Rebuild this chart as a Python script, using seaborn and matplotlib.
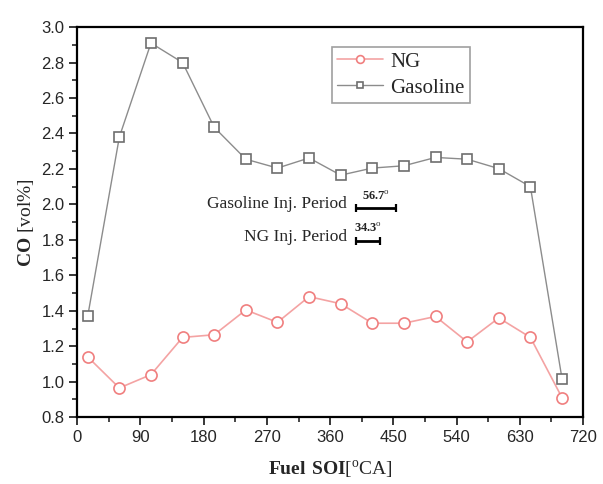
import numpy as np
import pandas as pd
import matplotlib
matplotlib.use("Agg")
import matplotlib.pyplot as plt
import seaborn as sns

# Fuel start of injection (deg CA)
soi = [15, 60, 105, 150, 195, 240, 285, 330, 375, 420, 465, 510, 555, 600, 645, 690]
co_ng = [1.14, 0.965, 1.04, 1.25, 1.265, 1.405, 1.335, 1.48, 1.44, 1.33, 1.33, 1.368, 1.225, 1.36, 1.25, 0.91]
co_gasoline = [1.37, 2.38, 2.91, 2.80, 2.435, 2.255, 2.205, 2.262, 2.165, 2.205, 2.218, 2.265, 2.255, 2.202, 2.10, 1.017]

period_names = ["Gasoline Inj. Period", "NG Inj. Period"]
period_values = [56.7, 34.3]

sns.set_style("ticks")
plt.rcParams["font.family"] = ["Liberation Serif", "DejaVu Serif"]
plt.rcParams["mathtext.fontset"] = "custom"
plt.rcParams["mathtext.rm"] = "Liberation Serif"
plt.rcParams["mathtext.bf"] = "Liberation Serif:bold"

df = pd.DataFrame({"soi": soi, "NG": co_ng, "Gasoline": co_gasoline})

fig = plt.figure(figsize=(6.03, 4.84), dpi=100)
ax = fig.add_axes([0.128, 0.138, 0.839, 0.806])

sns.lineplot(data=df, x="soi", y="NG", ax=ax, color="#f4a3a3", lw=1.2,
             marker="o", markersize=8, markerfacecolor="white",
             markeredgecolor="#f07f7f", markeredgewidth=1.2, label="NG")
sns.lineplot(data=df, x="soi", y="Gasoline", ax=ax, color="#8c8c8c", lw=1.0,
             marker="s", markersize=7, markerfacecolor="white",
             markeredgecolor="#6e6e6e", markeredgewidth=1.2, label="Gasoline")

ax.set_xlim(0, 720)
ax.set_ylim(0.8, 3.0)
ax.set_xticks(np.arange(0, 721, 90))
ax.set_xticks(np.arange(45, 720, 90), minor=True)
ax.set_yticks(np.arange(0.8, 3.01, 0.2))
ax.set_yticks(np.arange(0.9, 3.0, 0.2), minor=True)
ax.yaxis.set_major_formatter(matplotlib.ticker.FormatStrFormatter("%.1f"))
ax.tick_params(which="major", direction="out", length=6, width=1.3, pad=3)
ax.tick_params(which="minor", direction="out", length=3.5, width=1.2)
for lbl in ax.get_xticklabels() + ax.get_yticklabels():
    lbl.set_fontfamily("Liberation Sans")
    lbl.set_fontsize(12)
for s in ax.spines.values():
    s.set_linewidth(1.6)
    s.set_color("black")

ax.set_xlabel(r"$\mathbf{Fuel\ SOI}$[$^{\rm o}$CA]", fontsize=14, labelpad=10)
ax.set_ylabel(r"$\mathbf{CO}$ [vol%]", fontsize=14, labelpad=4)

leg = ax.legend(loc="upper left", bbox_to_anchor=(0.504, 0.949), fontsize=15,
                frameon=True, fancybox=False, handlelength=2.2, borderpad=0.25,
                labelspacing=0.3, handletextpad=0.35, borderaxespad=0,
                markerscale=0.7)
leg.get_frame().set_edgecolor("#888888")
leg.get_frame().set_linewidth(1.2)

# injection period scale bars
bar_start = 397
bar_y = [1.98, 1.795]
for name, val, y in zip(period_names, period_values, bar_y):
    ax.errorbar(bar_start + val / 2, y, xerr=val / 2, color="black", lw=2.0,
                capsize=3.0, capthick=1.6)
    ax.text(384, y + 0.02, name, ha="right", va="center", fontsize=12.5)
    ax.text(bar_start + val / 2, y + 0.03, f"{val}" + r"$^{\rm o}$",
            ha="center", va="bottom", fontsize=9, fontweight="bold")

fig.savefig("out.png", dpi=100)
